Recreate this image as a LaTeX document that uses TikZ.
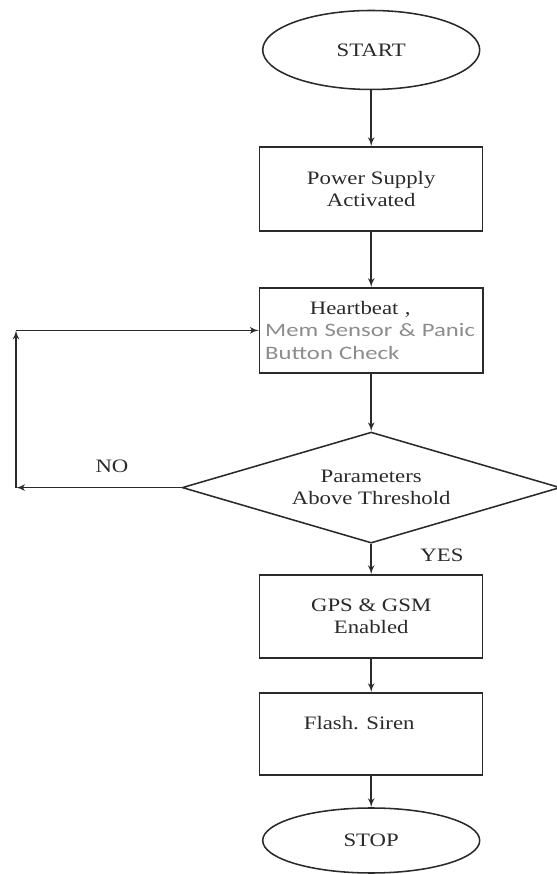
\documentclass[tikz,border=0pt]{standalone}
\usepackage{fontspec}
\setmainfont[FakeStretch=1.2]{Liberation Serif}
\newfontfamily\sensfont[FakeStretch=1.3]{Carlito}
\usetikzlibrary{arrows,shapes.geometric}
\definecolor{inkgray}{HTML}{2A2A2A}
\definecolor{sensgray}{HTML}{8C8C8C}

\begin{document}
\begin{tikzpicture}
	[inner sep=0pt, every node/.style={text=inkgray, font=\fontsize{13.5}{16}\selectfont},
	 term/.style={ellipse, draw=inkgray, line width=1.1pt, minimum width=5.425cm},
	 proc/.style={rectangle, draw=inkgray, line width=1.1pt, minimum width=5.575cm, align=center},
	 dec/.style={diamond, draw=inkgray, line width=1.1pt, aspect=3.4, minimum width=9.45cm, minimum height=2.775cm, align=center},
	 edge/.style={->, > = latex', draw=inkgray, line width=1.2pt}]
	\useasboundingbox (0,0) rectangle (13.9,21.85);
	\node[term, minimum height=1.975cm] (start) at (9.28,20.6) {START};
	\node[proc, minimum height=2.1cm] (power) at (9.28,17.125) {Power Supply\\Activated};
	\node[proc, minimum height=2.125cm, text width=5.3cm, inner xsep=0.14cm, align=left] (check) at (9.28,13.59)
		{\makebox[4.75cm]{Heartbeat ,}\\
		 {\sensfont\color{sensgray}Mem Sensor \& Panic}\\
		 {\sensfont\color{sensgray}Button Check}};
	\node[dec] (param) at (9.28,9.66) {Parameters\\Above Threshold};
	\node[proc, minimum height=2.075cm] (gps) at (9.28,6.4375) {GPS \& GSM\\Enabled};
	\node[proc, minimum height=2.05cm] (flash) at (9.28,3.5) {Flash. Siren\hspace*{0.6cm}\\\mbox{}};
	\node[term, minimum height=1.625cm] (stop) at (9.28,0.8375) {STOP};

	\node (no) at (2.8,10.2) {NO};
	\node (yes) at (11.05,7.975) {YES};

	\foreach \from/\to in {start/power,power/check,check/param,param/gps,gps/flash,flash/stop}
		\draw[edge] (\from) -- (\to);

	% NO branch back to the check
	\coordinate (c1) at (0.4,9.66);
	\coordinate (c2) at (c1 |- check.west);
	\draw[edge] (param.west) -- (c1);
	\draw[edge] (c1) -- (c2);
	\draw[edge] (c2) -- (check.west);
\end{tikzpicture}
\end{document}
